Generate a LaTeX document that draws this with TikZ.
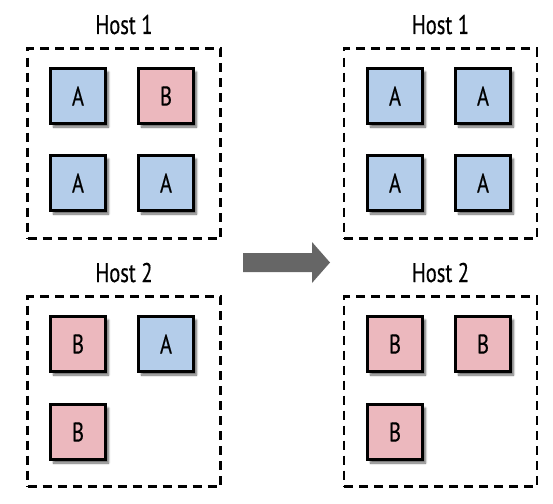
\documentclass[tikz,border=0pt]{standalone}
\usepackage{fontspec}
\setmainfont{PT Sans}[FakeStretch=0.76,FakeBold=0.4]
\usetikzlibrary{shadows.blur}
\definecolor{ablue}{RGB}{180,205,234}
\definecolor{bpink}{RGB}{236,184,190}
\definecolor{arrgray}{RGB}{102,102,102}
\begin{document}
\begin{tikzpicture}[x=1pt,y=-1pt,
  sq/.style={draw=black,line width=3pt,minimum size=55pt,inner sep=0pt,
    font=\fontsize{27}{27}\selectfont,
    blur shadow={shadow xshift=3pt,shadow yshift=-3.5pt,shadow blur steps=6,shadow opacity=60}},
  sqa/.style={sq,fill=ablue},
  sqb/.style={sq,fill=bpink},
  hostbox/.style={draw=black,line width=2.6pt,dash pattern=on 9pt off 6pt,
    minimum width=193pt,minimum height=190pt,inner sep=0pt},
  hostlabel/.style={anchor=base,font=\fontsize{27}{27}\selectfont,inner sep=0pt}]
\useasboundingbox (0,0) rectangle (553,503);
% left
\node[hostbox] (L1) at (124,143.5) {};
\node[hostlabel] (L1t) at (124,34) {Host 1};
\node[sqa] (l11) at (78,96) {A};
\node[sqb] (l12) at (166,96) {B};
\node[sqa] (l13) at (78,183) {A};
\node[sqa] (l14) at (166,183) {A};
\node[hostbox] (L2) at (124,391.5) {};
\node[hostlabel] (L2t) at (124,282) {Host 2};
\node[sqb] (l21) at (78,344) {B};
\node[sqa] (l22) at (166,344) {A};
\node[sqb] (l23) at (78,432) {B};
% right
\node[hostbox] (R1) at (440.5,143.5) {};
\node[hostlabel] (R1t) at (440.5,34) {Host 1};
\node[sqa] (r11) at (395,96) {A};
\node[sqa] (r12) at (483,96) {A};
\node[sqa] (r13) at (395,183) {A};
\node[sqa] (r14) at (483,183) {A};
\node[hostbox] (R2) at (440.5,391.5) {};
\node[hostlabel] (R2t) at (440.5,282) {Host 2};
\node[sqb] (r21) at (395,344) {B};
\node[sqb] (r22) at (483,344) {B};
\node[sqb] (r23) at (395,432) {B};
% arrow
\fill[arrgray] (243,253) -- (312,253) -- (312,242) -- (330,262.5) -- (312,283) -- (312,272) -- (243,272) -- cycle;
\end{tikzpicture}
\end{document}
